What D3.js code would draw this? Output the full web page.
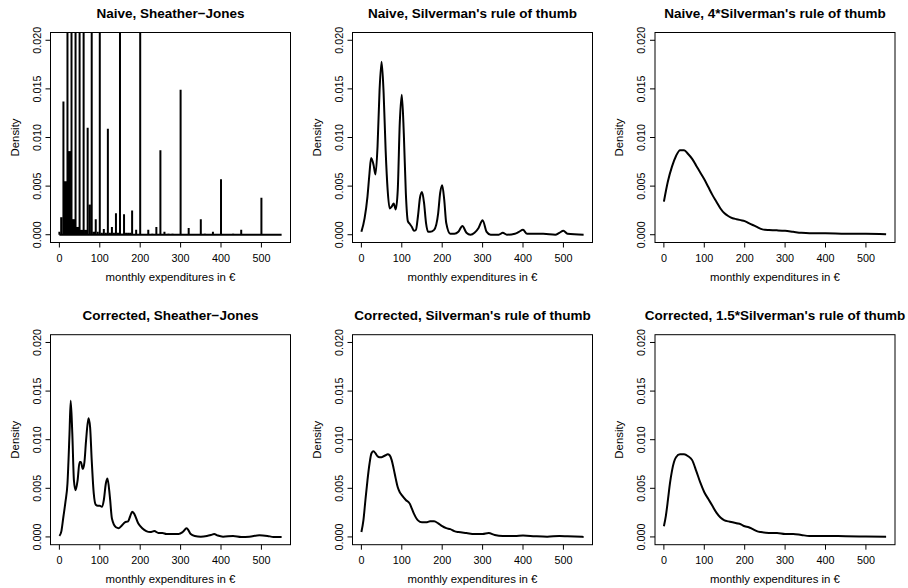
<!DOCTYPE html>
<html>
<head>
<meta charset="utf-8">
<script src="https://cdn.jsdelivr.net/npm/d3@7"></script>
<style>
  body { margin: 0; background: white; }
  text { font-family: "Liberation Sans", Arial, Helvetica, sans-serif; fill: #000; }
</style>
</head>
<body>
<svg></svg>
<script>
// tick values + titles
var xTicks = [0, 100, 200, 300, 400, 500]
var yTicks = [0, 0.005, 0.010, 0.015, 0.020]
var yTickLabels = ["0.000", "0.005", "0.010", "0.015", "0.020"]
var titles = [
    "Naive, Sheather\u2212Jones",
    "Naive, Silverman's rule of thumb",
    "Naive, 4*Silverman's rule of thumb",
    "Corrected, Sheather\u2212Jones",
    "Corrected, Silverman's rule of thumb",
    "Corrected, 1.5*Silverman's rule of thumb"
]

// naive SJ: single spikes [x, density] (values > 0.02 go off the top)
var naiveSJSpikes = [
    [0, 0.0003], [10, 0.0137], [20, 0.05], [30, 0.05], [40, 0.05], [50, 0.05],
    [60, 0.05], [70, 0.011], [80, 0.05], [84, 0.0003], [88, 0.0003], [90, 0.0016],
    [95, 0.0003], [100, 0.05], [105, 0.0002], [110, 0.0006], [115, 0.0002],
    [120, 0.0109], [125, 0.0002], [130, 0.0008], [135, 0.0002], [140, 0.0022],
    [145, 0.0002], [150, 0.05], [155, 0.0001], [160, 0.0021], [165, 0.0002],
    [170, 0.0002], [175, 0.0002], [180, 0.0025], [190, 0.0005], [200, 0.05],
    [220, 0.0005], [230, 0.0001], [240, 0.0008], [250, 0.0087], [260, 0.0003],
    [270, 0.0001], [280, 0.0001], [300, 0.0149], [320, 0.0007], [350, 0.0016],
    [360, 0.0001], [380, 0.0003], [400, 0.0057], [430, 0.0001], [450, 0.0005],
    [500, 0.0038]
]
// naive SJ: dense clusters of spikes [from, to, density]
var naiveSJBlocks = [
    [2, 8, 0.0018], [11, 19, 0.0055], [21, 29, 0.0086], [31, 39, 0.0016],
    [41, 49, 0.0008], [51, 59, 0.0005], [61, 69, 0.0005], [72, 78, 0.0031]
]

var naiveSilverman = [
    [0, 0.0003], [8, 0.0017], [15, 0.0039], [20, 0.0063], [24, 0.0079], [30, 0.0072],
    [35, 0.0062], [40, 0.0091], [45, 0.0149], [50, 0.0178], [55, 0.0146], [60, 0.0087],
    [65, 0.0046], [70, 0.0027], [75, 0.0029], [80, 0.0032], [85, 0.0026], [90, 0.0046],
    [95, 0.0115], [100, 0.0144], [105, 0.0104], [110, 0.0043], [115, 0.0014],
    [120, 0.0011], [125, 0.0008], [130, 0.0004], [135, 0.0005], [140, 0.0019],
    [145, 0.0038], [150, 0.0044], [155, 0.0033], [160, 0.0012], [165, 0.0003],
    [170, 0.0003], [180, 0.0005], [190, 0.0022], [195, 0.0043], [200, 0.0051],
    [205, 0.0036], [210, 0.0012], [220, 0.0001], [230, 0.0001], [240, 0.0003],
    [250, 0.0009], [260, 0.0002], [270, 0.0], [280, 0.0002], [290, 0.0007],
    [300, 0.0015], [310, 0.0003], [320, 0.0], [340, 0.0], [350, 0.0002], [360, 0.0],
    [380, 0.0001], [390, 0.0003], [400, 0.0005], [410, 0.0001], [450, 0.0001],
    [480, 0.0], [490, 0.0002], [500, 0.0004], [510, 0.0001], [550, 0.0]
]

var naive4Silverman = [
    [0, 0.0034], [10, 0.0055], [20, 0.0070], [30, 0.0081], [40, 0.0087], [50, 0.0087],
    [60, 0.0083], [70, 0.0078], [80, 0.0071], [90, 0.0064], [100, 0.0057], [110, 0.0049],
    [120, 0.0041], [130, 0.0034], [140, 0.0027], [150, 0.0022], [160, 0.0019],
    [170, 0.0017], [180, 0.0016], [190, 0.0015], [200, 0.0014], [210, 0.0012],
    [220, 0.0010], [230, 0.0008], [240, 0.0006], [250, 0.0005], [260, 0.00048],
    [280, 0.00045], [300, 0.0004], [320, 0.0003], [340, 0.0002], [360, 0.00015],
    [400, 0.00015], [450, 0.0001], [500, 0.0001], [550, 0.00005]
]

var correctedSJ = [
    [0, 0.0001], [5, 0.0006], [10, 0.0021], [15, 0.0036], [20, 0.0055], [25, 0.0106],
    [28, 0.0140], [32, 0.0106], [36, 0.0058], [40, 0.0048], [45, 0.0058], [50, 0.0077],
    [53, 0.0077], [58, 0.0070], [62, 0.0077], [66, 0.0099], [72, 0.0122], [76, 0.0113],
    [80, 0.0079], [85, 0.0045], [90, 0.0033], [95, 0.0032], [100, 0.0032], [105, 0.0031],
    [110, 0.0038], [115, 0.0055], [119, 0.0060], [125, 0.0041], [130, 0.0019],
    [140, 0.0010], [147, 0.0009], [155, 0.0012], [162, 0.0015], [170, 0.0016],
    [175, 0.0021], [180, 0.0026], [185, 0.0024], [195, 0.0014], [205, 0.0009],
    [215, 0.0006], [225, 0.0005], [235, 0.0006], [245, 0.0004], [255, 0.0004],
    [265, 0.0003], [280, 0.0003], [295, 0.0003], [305, 0.0005], [315, 0.0009],
    [325, 0.0003], [335, 0.0001], [350, 0.00003], [365, 0.0001], [375, 0.0002],
    [383, 0.0003], [392, 0.00014], [405, 0.00003], [430, 0.0001], [450, 0.0],
    [470, 0.00003], [495, 0.00017], [515, 0.0001], [530, 0.0], [550, 0.0]
]

var correctedSilverman = [
    [0, 0.0005], [5, 0.0017], [10, 0.0038], [15, 0.0058], [20, 0.0075], [25, 0.0086],
    [30, 0.0088], [35, 0.0086], [40, 0.0083], [45, 0.0082], [50, 0.0082], [55, 0.0083],
    [60, 0.0084], [65, 0.0085], [70, 0.0084], [75, 0.0079], [80, 0.0070], [85, 0.0060],
    [90, 0.0051], [95, 0.0046], [100, 0.0043], [110, 0.0038], [120, 0.0034],
    [125, 0.0029], [130, 0.0024], [140, 0.0017], [150, 0.0015], [160, 0.0015],
    [170, 0.0016], [180, 0.0016], [190, 0.0014], [200, 0.0011], [210, 0.0009],
    [220, 0.0008], [230, 0.0006], [240, 0.0005], [260, 0.0004], [280, 0.0003],
    [300, 0.0003], [315, 0.0004], [330, 0.0002], [350, 0.0001], [380, 0.0001],
    [400, 0.00014], [430, 0.00007], [460, 0.00003], [490, 0.0001], [510, 0.00007],
    [550, 0.0]
]

var corrected15Silverman = [
    [0, 0.0011], [5, 0.0022], [10, 0.0038], [15, 0.0055], [20, 0.0068], [25, 0.0077],
    [30, 0.0082], [40, 0.0085], [50, 0.0085], [60, 0.0083], [70, 0.0079], [80, 0.0068],
    [90, 0.0056], [100, 0.0046], [110, 0.0039], [120, 0.0032], [130, 0.0025],
    [140, 0.0020], [150, 0.0017], [160, 0.0016], [170, 0.0015], [180, 0.0014],
    [190, 0.0013], [200, 0.0011], [210, 0.0010], [220, 0.0008], [230, 0.0006],
    [240, 0.0005], [260, 0.0004], [280, 0.0004], [300, 0.0003], [320, 0.0003],
    [340, 0.0002], [360, 0.0001], [400, 0.0001], [450, 0.00007], [500, 0.00005],
    [550, 0.00003]
]

var curves = [null, naiveSilverman, naive4Silverman, correctedSJ, correctedSilverman, corrected15Silverman]

var svg = d3.select("svg")
    .attr("width", 908)
    .attr("height", 588)

// plot regions (R mfrow 2x3 style)
var lefts = [50.5, 352.5, 655]
var tops = [32.5, 334.7]
var plotW = 240
var plotH = 210

// R extends the range by 4%
var x = d3.scaleLinear().domain([-22, 572]).range([0, plotW])
var y = d3.scaleLinear().domain([-0.0008, 0.0208]).range([plotH, 0])

var line = d3.line()
    .x(d => x(d[0]))
    .y(d => y(d[1]))
    .curve(d3.curveMonotoneX)

titles.forEach((title, i) => {
    var col = i % 3
    var row = Math.floor(i / 3)
    var g = svg.append("g")
        .attr("transform", `translate(${lefts[col]}, ${tops[row]})`)

    g.append("clipPath").attr("id", "clip" + i)
        .append("rect").attr("width", plotW).attr("height", plotH)

    var plot = g.append("g").attr("clip-path", `url(#clip${i})`)

    if (i == 0) {
        // baseline of the spiky estimate
        plot.append("line")
            .attr("x1", x(0)).attr("x2", x(550))
            .attr("y1", y(0)).attr("y2", y(0))
            .attr("stroke", "#000").attr("stroke-width", 2)
        plot.selectAll("rect.block").data(naiveSJBlocks).enter().append("rect")
            .attr("class", "block")
            .attr("x", d => x(d[0]))
            .attr("width", d => x(d[1]) - x(d[0]))
            .attr("y", d => y(d[2]))
            .attr("height", d => y(0) - y(d[2]))
            .attr("fill", "#000")
        plot.selectAll("line.spike").data(naiveSJSpikes).enter().append("line")
            .attr("class", "spike")
            .attr("x1", d => x(d[0])).attr("x2", d => x(d[0]))
            .attr("y1", y(0)).attr("y2", d => y(d[1]))
            .attr("stroke", "#000").attr("stroke-width", 2)
    } else {
        plot.append("path")
            .datum(curves[i])
            .attr("d", line)
            .attr("fill", "none")
            .attr("stroke", "#000")
            .attr("stroke-width", 2)
            .attr("stroke-linejoin", "round")
    }

    // box
    g.append("rect")
        .attr("width", plotW).attr("height", plotH)
        .attr("fill", "none").attr("stroke", "#000").attr("stroke-width", 1)

    // x axis ticks
    var xa = g.append("g")
    xa.selectAll("line").data(xTicks).enter().append("line")
        .attr("x1", d => x(d)).attr("x2", d => x(d))
        .attr("y1", plotH).attr("y2", plotH + 5)
        .attr("stroke", "#000")
    xa.selectAll("text").data(xTicks).enter().append("text")
        .attr("x", d => x(d)).attr("y", plotH + 19.5)
        .attr("text-anchor", "middle")
        .style("font-size", "10.8px")
        .text(d => d)

    // y axis ticks, labels turned like in R
    var ya = g.append("g")
    ya.selectAll("line").data(yTicks).enter().append("line")
        .attr("x1", -5).attr("x2", 0)
        .attr("y1", d => y(d)).attr("y2", d => y(d))
        .attr("stroke", "#000")
    ya.selectAll("text").data(yTicks).enter().append("text")
        .attr("transform", d => `translate(-10, ${y(d)}) rotate(-90)`)
        .attr("text-anchor", "middle")
        .style("font-size", "10.8px")
        .text((d, j) => yTickLabels[j])

    g.append("text")
        .attr("x", plotW / 2).attr("y", plotH + 38)
        .attr("text-anchor", "middle")
        .style("font-size", "11.4px")
        .text("monthly expenditures in \u20ac")

    g.append("text")
        .attr("transform", `translate(-32, ${plotH / 2}) rotate(-90)`)
        .attr("text-anchor", "middle")
        .style("font-size", "11.4px")
        .text("Density")

    g.append("text")
        .attr("x", plotW / 2).attr("y", -15)
        .attr("text-anchor", "middle")
        .style("font-size", "13.5px")
        .style("font-weight", "bold")
        .text(title)
})
</script>
</body>
</html>
